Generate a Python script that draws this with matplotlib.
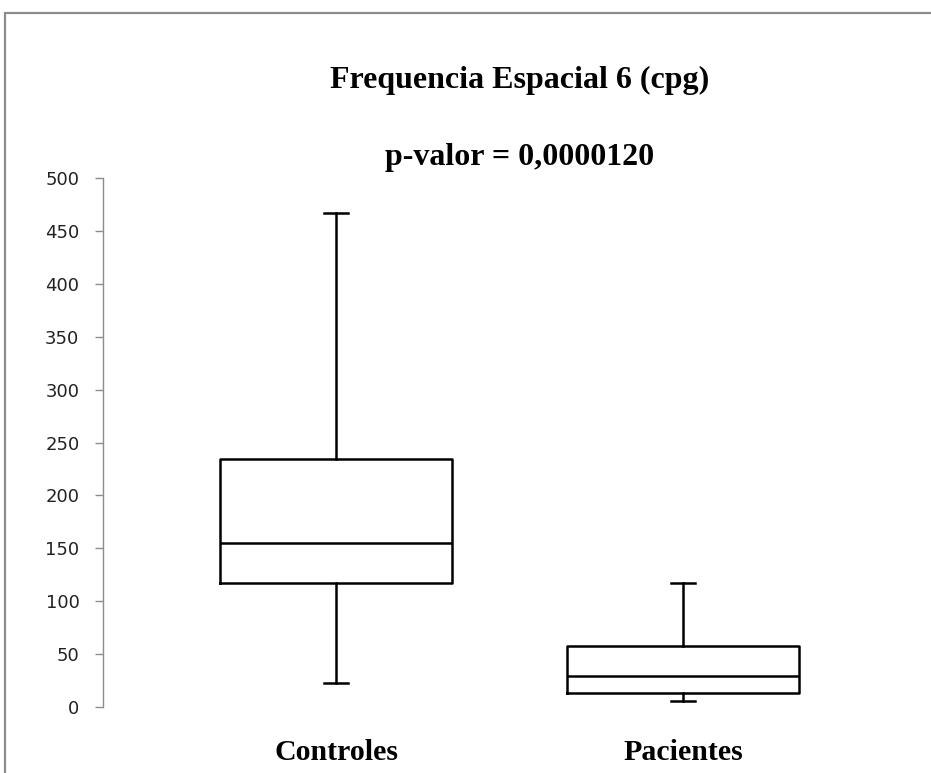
import matplotlib
matplotlib.use("Agg")
import matplotlib.pyplot as plt
from matplotlib.patches import Rectangle

# box summary values (y axis: 0-500)
groups = ["Controles", "Pacientes"]
whisker_low = [23, 6]
q1 = [117, 13]
median = [155, 29]
q3 = [234, 58]
whisker_high = [467, 117]
y_ticks = [0, 50, 100, 150, 200, 250, 300, 350, 400, 450, 500]

title_text = "Frequencia Espacial 6 (cpg)"
pvalue_text = "p-valor = 0,0000120"

W, H = 931, 773
fig = plt.figure(figsize=(W / 100, H / 100), dpi=100)

# outer chart border (only top and left visible in the reference)
fig.patches.append(Rectangle((5 / W, -0.1), 1.2, (H - 13) / H + 0.1,
                             transform=fig.transFigure, fill=False,
                             edgecolor="#8c8c8c", linewidth=1.6))

ax = fig.add_axes([103 / W, (H - 707) / H, (916 - 103) / W, (707 - 178) / H])

stats = []
for i, name in enumerate(groups):
    stats.append({
        "label": name,
        "whislo": whisker_low[i],
        "q1": q1[i],
        "med": median[i],
        "q3": q3[i],
        "whishi": whisker_high[i],
        "fliers": [],
    })

line_kw = dict(color="black", linewidth=1.8)
ax.bxp(stats, positions=[1, 2], widths=0.668, capwidths=0.072,
       showfliers=False, boxprops=line_kw, medianprops=line_kw,
       whiskerprops=line_kw, capprops=line_kw)

ax.set_xlim(1 - 233 / 347, 2 + 233 / 347)
ax.set_ylim(0, 500)
ax.set_yticks(y_ticks)
ax.set_yticklabels([str(v) for v in y_ticks], fontsize=13, color="#222222",
                   family="DejaVu Sans")
ax.tick_params(axis="y", direction="out", length=6, width=1.0,
               color="#8c8c8c", pad=11)
ax.tick_params(axis="x", length=0, pad=23)
for lbl in ax.get_xticklabels():
    lbl.set_fontfamily("Liberation Serif")
    lbl.set_fontweight("bold")
    lbl.set_fontsize(21.5)

for side in ["top", "right", "bottom"]:
    ax.spines[side].set_visible(False)
ax.spines["left"].set_color("#8c8c8c")
ax.spines["left"].set_linewidth(1.0)

fig.text(520 / W, 1 - 80 / H, title_text, ha="center", va="center",
         family="Liberation Serif", weight="bold", fontsize=23)
fig.text(520 / W, 1 - 157 / H, pvalue_text, ha="center", va="center",
         family="Liberation Serif", weight="bold", fontsize=23)

fig.savefig("out.png", dpi=100)
